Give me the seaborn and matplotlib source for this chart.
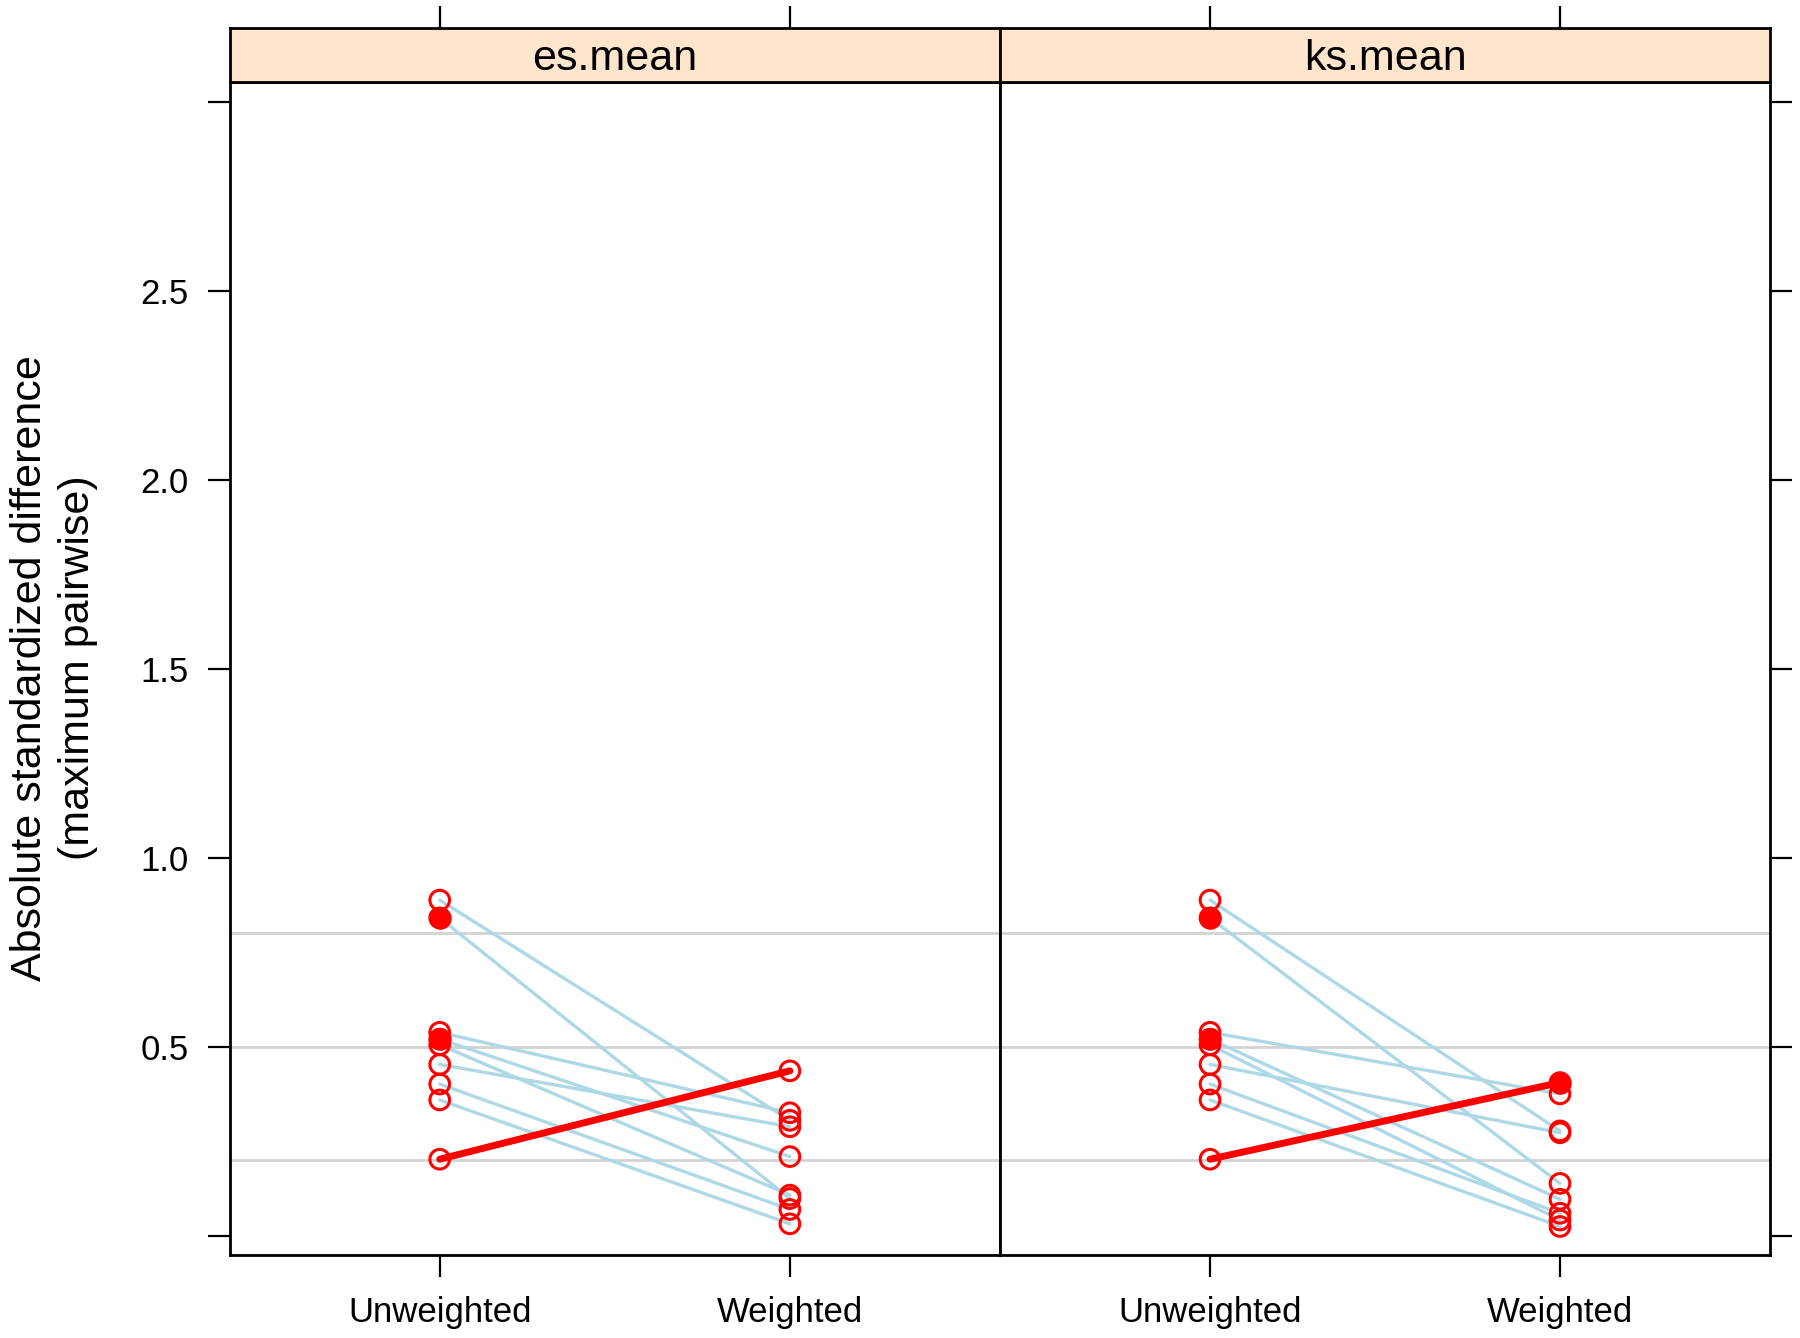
import numpy as np
import pandas as pd
import matplotlib
matplotlib.use('Agg')
import matplotlib.pyplot as plt
import seaborn as sns

# ------------------------------------------------------------------
# Data (9 covariates, two balance statistics)
# ------------------------------------------------------------------
panels      = ['es.mean', 'ks.mean']
stages      = ['Unweighted', 'Weighted']
covariates  = ['c1', 'c2', 'c3', 'c4', 'c5', 'c6', 'c7', 'c8', 'c9']

unweighted  = [0.888, 0.841, 0.538, 0.520, 0.505, 0.453, 0.401, 0.359, 0.202]
unw_sig     = [False, True, False, True, False, False, False, False, False]

es_weighted = [0.305, 0.098, 0.325, 0.209, 0.107, 0.288, 0.069, 0.031, 0.436]
es_w_sig    = [False] * 9

ks_weighted = [0.277, 0.138, 0.375, 0.096, 0.041, 0.272, 0.059, 0.024, 0.405]
ks_w_sig    = [False, False, False, False, False, False, False, False, True]

ref_lines   = [0.2, 0.5, 0.8]
y_ticks     = [0.0, 0.5, 1.0, 1.5, 2.0, 2.5, 3.0]
y_ticklabs  = ['', '0.5', '1.0', '1.5', '2.0', '2.5', '']

rows = []
for panel, w_vals, w_sig in [('es.mean', es_weighted, es_w_sig),
                             ('ks.mean', ks_weighted, ks_w_sig)]:
    for cov, u, us, w, ws in zip(covariates, unweighted, unw_sig, w_vals, w_sig):
        rows.append(dict(panel=panel, cov=cov, stage=0, value=u, sig=us,
                         up=w > u))
        rows.append(dict(panel=panel, cov=cov, stage=1, value=w, sig=ws,
                         up=w > u))
df = pd.DataFrame(rows)

# ------------------------------------------------------------------
# Figure
# ------------------------------------------------------------------
sns.set_theme(style='white')
plt.rcParams['font.family'] = ['Liberation Sans', 'DejaVu Sans']

W, H = 1800, 1338
fig = plt.figure(figsize=(W / 100, H / 100), dpi=100)

left, mid, right = 229.6 / W, 1000 / W, 1770 / W
bottom = 1 - 1254.8 / H
strip_bot = 1 - 81.5 / H
strip_top = 1 - 27.5 / H

RED = '#FF0000'
BLUE = '#ADD8E6'
XLIM = (-0.6, 1.6)
YLIM = (-0.051, 3.055)

for i, panel in enumerate(panels):
    x0 = left if i == 0 else mid
    x1 = mid if i == 0 else right
    ax = fig.add_axes([x0, bottom, x1 - x0, strip_bot - bottom])
    sax = fig.add_axes([x0, strip_bot, x1 - x0, strip_top - strip_bot])
    d = df[df.panel == panel]

    for yv in ref_lines:
        ax.axhline(yv, color='#D3D3D3', lw=2.0, zorder=1)

    sns.lineplot(data=d[~d.up], x='stage', y='value', units='cov',
                 estimator=None, color=BLUE, lw=2.4, ax=ax, zorder=2,
                 legend=False)
    sns.lineplot(data=d[d.up], x='stage', y='value', units='cov',
                 estimator=None, color=RED, lw=5, ax=ax, zorder=3,
                 legend=False)
    sns.scatterplot(data=d, x='stage', y='value', s=200,
                    facecolor='none', edgecolor=RED, linewidth=2.2,
                    ax=ax, zorder=4, legend=False)
    sns.scatterplot(data=d[d.sig], x='stage', y='value', s=230,
                    color=RED, edgecolor=RED, linewidth=1,
                    ax=ax, zorder=5, legend=False)

    ax.set_xlim(*XLIM)
    ax.set_ylim(*YLIM)
    ax.set_xlabel('')
    ax.set_ylabel('')
    for s in ax.spines.values():
        s.set_visible(True)
        s.set_color('black')
        s.set_linewidth(2.0)

    ax.set_xticks([0, 1])
    ax.set_xticklabels(stages, fontsize=25)
    ax.set_yticks(y_ticks)
    ax.tick_params(axis='x', which='both', bottom=True, top=False,
                   length=15.5, width=1.6, direction='out', pad=14,
                   colors='black', labelsize=25)
    if i == 0:
        ax.set_yticklabels(y_ticklabs)
        ax.tick_params(axis='y', left=True, right=False, labelleft=True,
                       length=15.5, width=1.6, direction='out', pad=14,
                       labelsize=25, colors='black')
    else:
        ax.tick_params(axis='y', left=False, right=True, labelleft=False,
                       labelright=False, length=15.5, width=1.6,
                       direction='out', colors='black')

    # strip
    sax.set_facecolor('#FFE5CC')
    sax.set_xlim(*XLIM)
    sax.set_ylim(0, 1)
    sax.set_yticks([])
    sax.set_xticks([0, 1])
    sax.tick_params(axis='x', bottom=False, top=True, labelbottom=False,
                    labeltop=False, length=15.5, width=1.6, direction='out',
                    colors='black')
    for s in sax.spines.values():
        s.set_visible(True)
        s.set_color('black')
        s.set_linewidth(2.0)
    sax.text(0.5, 0.42, panel, transform=sax.transAxes, ha='center',
             va='center', fontsize=31, color='black')

fig.text(54 / W, (bottom + strip_bot) / 2,
         'Absolute standardized difference\n(maximum pairwise)',
         rotation=90, ha='center', va='center', fontsize=31,
         linespacing=1.25, color='black')

fig.savefig('out.png', dpi=100)
plt.close(fig)
